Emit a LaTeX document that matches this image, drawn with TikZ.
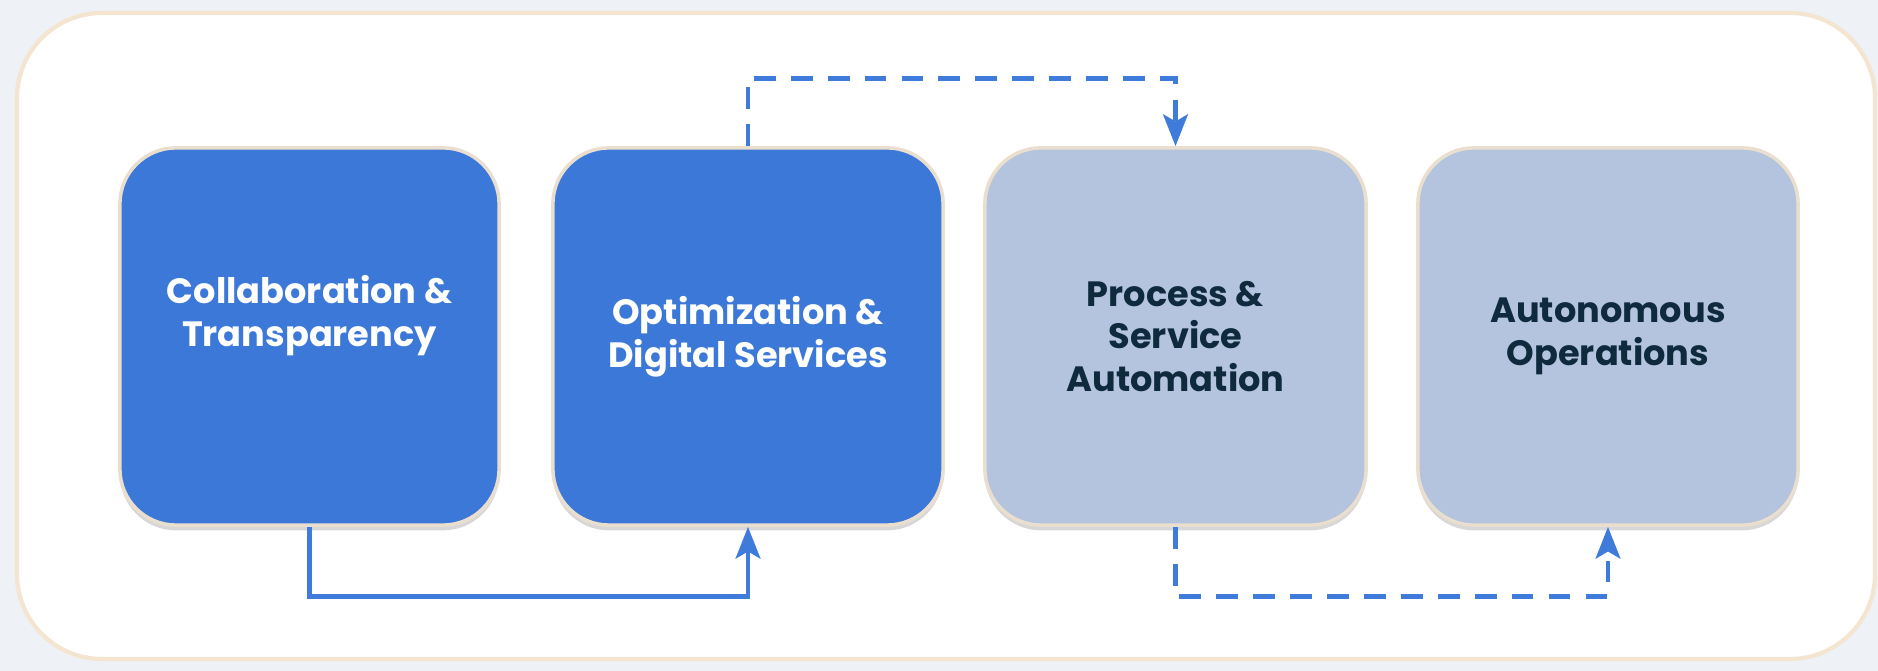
\documentclass[tikz,border=0pt]{standalone}
\usepackage{fontspec}
\setmainfont{Poppins}
\usetikzlibrary{arrows.meta,shadows}

\definecolor{pagebg}{RGB}{238,241,245}
\definecolor{panelrim}{RGB}{244,229,208}
\definecolor{boxrim}{RGB}{234,222,206}
\definecolor{stageblue}{RGB}{60,120,216}
\definecolor{stagegrey}{RGB}{180,196,222}
\definecolor{stagenavy}{RGB}{14,42,60}
\definecolor{flowblue}{RGB}{62,123,218}

\begin{document}
\begin{tikzpicture}
  [x=0.01cm,y=-0.01cm,
   stage/.style={rounded corners=0.56cm,minimum height=3.77cm,align=center,
     draw=boxrim,line width=1pt,
     drop shadow={shadow xshift=0pt,shadow yshift=-1.5pt,opacity=0.22,fill=black!70},
     font=\bfseries\fontsize{10}{12.2}\selectfont},
   done/.style={stage,fill=stageblue,text=white},
   todo/.style={stage,fill=stagegrey,text=stagenavy},
   flow/.style={draw=flowblue,line width=1.4pt,-{Stealth[length=9pt,width=7pt,inset=2pt]}},
   solidflow/.style={},
   dashflow/.style={dash pattern=on 6.2pt off 4.3pt}]

  % page and panel
  \fill[pagebg] (0,0) rectangle (1878,671);
  \draw[panelrim,line width=1.2pt,fill=white,rounded corners=0.85cm] (17,13) rectangle (1875,659);

  % stages
  \node[done,minimum width=3.79cm,
    label={[text=white,align=center,font=\bfseries\fontsize{10}{12.2}\selectfont,yshift=6pt]center:Collaboration \&\\Transparency}]
    (collab) at (309.5,336.5) {};
  \node[done,minimum width=3.90cm] (optim) at (748,336.5) {Optimization \&\\Digital Services};
  \node[todo,minimum width=3.81cm] (process) at (1175.5,336.5) {Process \&\\Service\\Automation};
  \node[todo,minimum width=3.80cm] (auto) at (1608,336.5) {Autonomous\\Operations};

  % flows between stages
  \foreach \from/\to/\side/\off/\kind in {collab/optim/south/70/solidflow,
      optim/process/north/-68/dashflow,process/auto/south/70/dashflow}
    \draw[flow,\kind] (\from.\side) -- ++(0,\off) -| (\to.\side);
\end{tikzpicture}
\end{document}
